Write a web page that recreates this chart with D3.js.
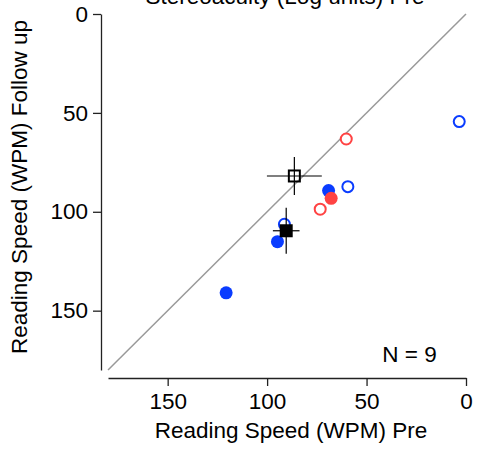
<!DOCTYPE html>
<html>
<head>
<meta charset="utf-8">
<script src="https://cdn.jsdelivr.net/npm/d3@7"></script>
<style>
  body { margin: 0; background: #fff; }
  text { font-family: "Liberation Sans", Arial, sans-serif; fill: #000; }
</style>
</head>
<body>
<svg width="478" height="455"></svg>
<script>
// точки: скорость чтения до (pre) и после (follow up)
const circlePre    = [3.4, 60.2, 59.4, 69.1, 67.8, 73.3, 91.3, 94.8, 120.6];
const circleFollow = [54.4, 63.2, 87.3, 89.3, 93.2, 98.7, 106.3, 115.1, 141];
const circleColor  = ["blue", "red", "blue", "blue", "red", "red", "blue", "blue", "blue"];
const circleFilled = [false, false, false, true, true, false, false, true, true];

// средние значения (квадраты) с разбросом
const meanPre    = [86.3, 90.4];
const meanFollow = [81.9, 109.6];
const meanErrX   = [13.8, 6.7];
const meanErrY   = [9.6, 11.6];
const meanFilled = [false, true];

const xTicks = [150, 100, 50, 0];
const yTicks = [0, 50, 100, 150];
const colors = {blue: "#0a3cff", red: "#ff4343"};
const fs = 22.5;

const svg = d3.select("svg");
const x = d3.scaleLinear().domain([180, 0]).range([108, 466]);
const y = d3.scaleLinear().domain([0, 180]).range([14, 370]);

// заголовок, обрезанный сверху
svg.append("text").attr("x", 285).attr("y", 3.5)
    .attr("text-anchor", "middle").attr("font-size", fs)
    .text("Stereoacuity (Log units) Pre");

// диагональ x = y
svg.append("line")
    .attr("x1", x(180)).attr("y1", y(180))
    .attr("x2", x(0)).attr("y2", y(0))
    .attr("stroke", "#999").attr("stroke-width", 1.5);

const xAxis = svg.append("g").attr("transform", "translate(0,378)")
    .call(d3.axisBottom(x).tickValues(xTicks).tickSize(8).tickPadding(7).tickSizeOuter(0));
const yAxis = svg.append("g").attr("transform", "translate(101,0)")
    .call(d3.axisLeft(y).tickValues(yTicks).tickSize(8).tickPadding(5).tickSizeOuter(0));
[xAxis, yAxis].forEach(a => {
    a.selectAll("path, line").attr("stroke", "#222").attr("stroke-width", 1.3);
    a.selectAll("text").attr("font-size", fs).attr("font-family", "Liberation Sans, Arial, sans-serif");
});

svg.append("text").attr("x", 291).attr("y", 438)
    .attr("text-anchor", "middle").attr("font-size", fs)
    .text("Reading Speed (WPM) Pre");
svg.append("text").attr("transform", "translate(27,187) rotate(-90)")
    .attr("text-anchor", "middle").attr("font-size", fs)
    .text("Reading Speed (WPM) Follow up");

svg.append("text").attr("x", 409.5).attr("y", 362)
    .attr("text-anchor", "middle").attr("font-size", fs)
    .text("N = 9");

// кружки
circlePre.forEach((v, i) => {
    const c = colors[circleColor[i]];
    svg.append("circle")
        .attr("cx", x(v)).attr("cy", y(circleFollow[i]))
        .attr("r", circleFilled[i] ? 6.5 : 5.5)
        .attr("fill", circleFilled[i] ? c : "#fff")
        .attr("stroke", c).attr("stroke-width", circleFilled[i] ? 0 : 2);
});

// квадраты с крестами
meanPre.forEach((v, i) => {
    const cx = x(v), cy = y(meanFollow[i]);
    svg.append("line")
        .attr("x1", x(v + meanErrX[i])).attr("x2", x(v - meanErrX[i]))
        .attr("y1", cy).attr("y2", cy)
        .attr("stroke", "#000").attr("stroke-width", 1.2);
    svg.append("line")
        .attr("x1", cx).attr("x2", cx)
        .attr("y1", y(meanFollow[i] - meanErrY[i])).attr("y2", y(meanFollow[i] + meanErrY[i]))
        .attr("stroke", "#000").attr("stroke-width", 1.2);
    svg.append("rect")
        .attr("x", cx - 5.5).attr("y", cy - 5.5)
        .attr("width", 11).attr("height", 11)
        .attr("fill", meanFilled[i] ? "#000" : "none")
        .attr("stroke", "#000").attr("stroke-width", 2);
});
</script>
</body>
</html>
